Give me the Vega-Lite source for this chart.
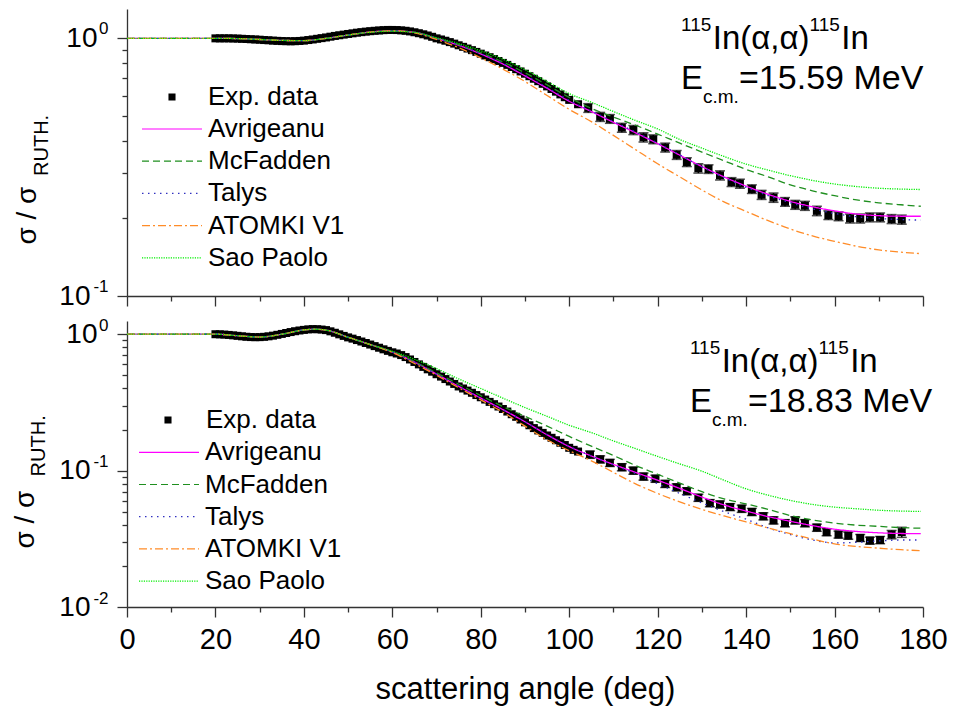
{
"$schema":"https://vega.github.io/schema/vega-lite/v6.json",
"autosize":{"type":"none"},
"padding":{"left":127,"top":9,"right":827,"bottom":700},
"background":"white",
"config":{"font":"Liberation Sans","view":{"stroke":null},
"axis":{"domainColor":"#333333","tickColor":"#333333","domainWidth":1.3,"tickWidth":1.3,"labelColor":"black","titleColor":"black","labelFont":"Liberation Sans","titleFont":"Liberation Sans","grid":false,"labelFlush":false,"labelOverlap":false,"titleFontWeight":"normal"},
"legend":{"labelFont":"Liberation Sans","labelColor":"black"},
"text":{"font":"Liberation Sans","color":"black"}},
"datasets":{
"topDense":[{"a":20,"v":1.0},{"a":21,"v":1.0},{"a":22,"v":1.0},{"a":23,"v":1.0},{"a":24,"v":0.999},{"a":25,"v":0.998},{"a":26,"v":0.996},{"a":27,"v":0.994},{"a":28,"v":0.992},{"a":29,"v":0.99},{"a":30,"v":0.988},{"a":31,"v":0.985},{"a":32,"v":0.983},{"a":33,"v":0.98},{"a":34,"v":0.978},{"a":35,"v":0.976},{"a":36,"v":0.975},{"a":37,"v":0.974},{"a":38,"v":0.975},{"a":39,"v":0.977},{"a":40,"v":0.98},{"a":41,"v":0.985},{"a":42,"v":0.99},{"a":43,"v":0.996},{"a":44,"v":1.002},{"a":45,"v":1.008},{"a":46,"v":1.015},{"a":47,"v":1.022},{"a":48,"v":1.028},{"a":49,"v":1.034},{"a":50,"v":1.04},{"a":51,"v":1.046},{"a":52,"v":1.052},{"a":53,"v":1.057},{"a":54,"v":1.062},{"a":55,"v":1.066},{"a":56,"v":1.07},{"a":57,"v":1.073},{"a":58,"v":1.076},{"a":59,"v":1.078},{"a":60,"v":1.078},{"a":61,"v":1.077},{"a":62,"v":1.074},{"a":63,"v":1.07},{"a":64,"v":1.064},{"a":65,"v":1.056},{"a":66,"v":1.047},{"a":67,"v":1.037},{"a":68,"v":1.026},{"a":69,"v":1.014},{"a":70,"v":1.0},{"a":71,"v":0.99},{"a":72,"v":0.979},{"a":73,"v":0.967},{"a":74,"v":0.954},{"a":75,"v":0.94},{"a":76,"v":0.927},{"a":77,"v":0.913},{"a":78,"v":0.9},{"a":79,"v":0.886},{"a":80,"v":0.872},{"a":81,"v":0.858},{"a":82,"v":0.845},{"a":83,"v":0.831},{"a":84,"v":0.817},{"a":85,"v":0.803},{"a":86,"v":0.789},{"a":87,"v":0.774},{"a":88,"v":0.759},{"a":89,"v":0.744},{"a":90,"v":0.729},{"a":91,"v":0.713},{"a":92,"v":0.697},{"a":93,"v":0.682},{"a":94,"v":0.666},{"a":95,"v":0.651},{"a":96,"v":0.636},{"a":97,"v":0.621},{"a":98,"v":0.606},{"a":99,"v":0.591},{"a":100,"v":0.577},{"a":102,"v":0.555}],
"topSparse":[{"a":104.3,"v":0.537,"e":0.021},{"a":107,"v":0.496,"e":0.02},{"a":109.2,"v":0.487,"e":0.019},{"a":111.9,"v":0.45,"e":0.018},{"a":114.5,"v":0.441,"e":0.018},{"a":116.8,"v":0.413,"e":0.017},{"a":119,"v":0.406,"e":0.016},{"a":121.7,"v":0.377,"e":0.015},{"a":124.3,"v":0.353,"e":0.014},{"a":126.6,"v":0.331,"e":0.013},{"a":129.2,"v":0.313,"e":0.013},{"a":131.5,"v":0.311,"e":0.012},{"a":134.1,"v":0.294,"e":0.012},{"a":136.7,"v":0.277,"e":0.011},{"a":138.6,"v":0.273,"e":0.011},{"a":141.3,"v":0.26,"e":0.01},{"a":143.5,"v":0.247,"e":0.01},{"a":146.2,"v":0.241,"e":0.01},{"a":148.8,"v":0.232,"e":0.009},{"a":151.1,"v":0.226,"e":0.009},{"a":153.3,"v":0.224,"e":0.009},{"a":156,"v":0.214,"e":0.009},{"a":158.6,"v":0.206,"e":0.008},{"a":160.9,"v":0.204,"e":0.008},{"a":163.5,"v":0.2,"e":0.008},{"a":165.8,"v":0.2,"e":0.008},{"a":168,"v":0.202,"e":0.008},{"a":170.3,"v":0.202,"e":0.008},{"a":172.9,"v":0.199,"e":0.008},{"a":175.2,"v":0.198,"e":0.008}],
"topTh":[
{"a":0,"v":1,"m":"Avrigeanu"},{"a":10,"v":1,"m":"Avrigeanu"},{"a":20,"v":1,"m":"Avrigeanu"},{"a":25,"v":0.998,"m":"Avrigeanu"},{"a":30,"v":0.99,"m":"Avrigeanu"},{"a":35,"v":0.982,"m":"Avrigeanu"},{"a":40,"v":0.98,"m":"Avrigeanu"},{"a":45,"v":1.0,"m":"Avrigeanu"},{"a":50,"v":1.03,"m":"Avrigeanu"},{"a":55,"v":1.058,"m":"Avrigeanu"},{"a":60,"v":1.07,"m":"Avrigeanu"},{"a":65,"v":1.055,"m":"Avrigeanu"},{"a":70,"v":1.0,"m":"Avrigeanu"},{"a":75,"v":0.94,"m":"Avrigeanu"},{"a":80,"v":0.87,"m":"Avrigeanu"},{"a":85,"v":0.795,"m":"Avrigeanu"},{"a":90,"v":0.715,"m":"Avrigeanu"},{"a":95,"v":0.64,"m":"Avrigeanu"},{"a":100,"v":0.57,"m":"Avrigeanu"},{"a":105,"v":0.52,"m":"Avrigeanu"},{"a":110,"v":0.472,"m":"Avrigeanu"},{"a":115,"v":0.43,"m":"Avrigeanu"},{"a":120,"v":0.39,"m":"Avrigeanu"},{"a":125,"v":0.352,"m":"Avrigeanu"},{"a":130,"v":0.318,"m":"Avrigeanu"},{"a":135,"v":0.29,"m":"Avrigeanu"},{"a":140,"v":0.267,"m":"Avrigeanu"},{"a":145,"v":0.248,"m":"Avrigeanu"},{"a":150,"v":0.233,"m":"Avrigeanu"},{"a":155,"v":0.222,"m":"Avrigeanu"},{"a":160,"v":0.214,"m":"Avrigeanu"},{"a":165,"v":0.208,"m":"Avrigeanu"},{"a":170,"v":0.205,"m":"Avrigeanu"},{"a":175,"v":0.204,"m":"Avrigeanu"},{"a":179.5,"v":0.204,"m":"Avrigeanu"},
{"a":0,"v":1,"m":"McFadden"},{"a":10,"v":1,"m":"McFadden"},{"a":20,"v":1,"m":"McFadden"},{"a":25,"v":0.998,"m":"McFadden"},{"a":30,"v":0.99,"m":"McFadden"},{"a":35,"v":0.982,"m":"McFadden"},{"a":40,"v":0.98,"m":"McFadden"},{"a":45,"v":1.0,"m":"McFadden"},{"a":50,"v":1.03,"m":"McFadden"},{"a":55,"v":1.058,"m":"McFadden"},{"a":60,"v":1.07,"m":"McFadden"},{"a":65,"v":1.055,"m":"McFadden"},{"a":70,"v":1.0,"m":"McFadden"},{"a":75,"v":0.945,"m":"McFadden"},{"a":80,"v":0.88,"m":"McFadden"},{"a":85,"v":0.81,"m":"McFadden"},{"a":90,"v":0.735,"m":"McFadden"},{"a":95,"v":0.66,"m":"McFadden"},{"a":100,"v":0.59,"m":"McFadden"},{"a":105,"v":0.535,"m":"McFadden"},{"a":110,"v":0.495,"m":"McFadden"},{"a":115,"v":0.46,"m":"McFadden"},{"a":120,"v":0.425,"m":"McFadden"},{"a":125,"v":0.392,"m":"McFadden"},{"a":130,"v":0.362,"m":"McFadden"},{"a":135,"v":0.335,"m":"McFadden"},{"a":140,"v":0.31,"m":"McFadden"},{"a":145,"v":0.29,"m":"McFadden"},{"a":150,"v":0.27,"m":"McFadden"},{"a":155,"v":0.256,"m":"McFadden"},{"a":160,"v":0.245,"m":"McFadden"},{"a":165,"v":0.236,"m":"McFadden"},{"a":170,"v":0.23,"m":"McFadden"},{"a":175,"v":0.226,"m":"McFadden"},{"a":179.5,"v":0.223,"m":"McFadden"},
{"a":0,"v":1,"m":"Talys"},{"a":10,"v":1,"m":"Talys"},{"a":20,"v":1,"m":"Talys"},{"a":25,"v":0.998,"m":"Talys"},{"a":30,"v":0.99,"m":"Talys"},{"a":35,"v":0.982,"m":"Talys"},{"a":40,"v":0.98,"m":"Talys"},{"a":45,"v":1.0,"m":"Talys"},{"a":50,"v":1.03,"m":"Talys"},{"a":55,"v":1.058,"m":"Talys"},{"a":60,"v":1.07,"m":"Talys"},{"a":65,"v":1.055,"m":"Talys"},{"a":70,"v":1.0,"m":"Talys"},{"a":75,"v":0.942,"m":"Talys"},{"a":80,"v":0.873,"m":"Talys"},{"a":85,"v":0.8,"m":"Talys"},{"a":90,"v":0.72,"m":"Talys"},{"a":95,"v":0.645,"m":"Talys"},{"a":100,"v":0.575,"m":"Talys"},{"a":105,"v":0.522,"m":"Talys"},{"a":110,"v":0.476,"m":"Talys"},{"a":115,"v":0.433,"m":"Talys"},{"a":120,"v":0.392,"m":"Talys"},{"a":125,"v":0.353,"m":"Talys"},{"a":130,"v":0.317,"m":"Talys"},{"a":135,"v":0.288,"m":"Talys"},{"a":140,"v":0.264,"m":"Talys"},{"a":145,"v":0.245,"m":"Talys"},{"a":150,"v":0.23,"m":"Talys"},{"a":155,"v":0.218,"m":"Talys"},{"a":160,"v":0.209,"m":"Talys"},{"a":165,"v":0.203,"m":"Talys"},{"a":170,"v":0.2,"m":"Talys"},{"a":175,"v":0.198,"m":"Talys"},{"a":179.5,"v":0.197,"m":"Talys"},
{"a":0,"v":1,"m":"ATOMKI V1"},{"a":10,"v":1,"m":"ATOMKI V1"},{"a":20,"v":1,"m":"ATOMKI V1"},{"a":25,"v":0.998,"m":"ATOMKI V1"},{"a":30,"v":0.99,"m":"ATOMKI V1"},{"a":35,"v":0.982,"m":"ATOMKI V1"},{"a":40,"v":0.98,"m":"ATOMKI V1"},{"a":45,"v":1.0,"m":"ATOMKI V1"},{"a":50,"v":1.03,"m":"ATOMKI V1"},{"a":55,"v":1.058,"m":"ATOMKI V1"},{"a":60,"v":1.07,"m":"ATOMKI V1"},{"a":65,"v":1.05,"m":"ATOMKI V1"},{"a":70,"v":0.99,"m":"ATOMKI V1"},{"a":75,"v":0.92,"m":"ATOMKI V1"},{"a":80,"v":0.84,"m":"ATOMKI V1"},{"a":85,"v":0.76,"m":"ATOMKI V1"},{"a":90,"v":0.68,"m":"ATOMKI V1"},{"a":95,"v":0.6,"m":"ATOMKI V1"},{"a":100,"v":0.53,"m":"ATOMKI V1"},{"a":105,"v":0.475,"m":"ATOMKI V1"},{"a":110,"v":0.42,"m":"ATOMKI V1"},{"a":115,"v":0.37,"m":"ATOMKI V1"},{"a":120,"v":0.326,"m":"ATOMKI V1"},{"a":125,"v":0.29,"m":"ATOMKI V1"},{"a":130,"v":0.258,"m":"ATOMKI V1"},{"a":135,"v":0.232,"m":"ATOMKI V1"},{"a":140,"v":0.213,"m":"ATOMKI V1"},{"a":145,"v":0.196,"m":"ATOMKI V1"},{"a":150,"v":0.182,"m":"ATOMKI V1"},{"a":155,"v":0.171,"m":"ATOMKI V1"},{"a":160,"v":0.163,"m":"ATOMKI V1"},{"a":165,"v":0.156,"m":"ATOMKI V1"},{"a":170,"v":0.151,"m":"ATOMKI V1"},{"a":175,"v":0.148,"m":"ATOMKI V1"},{"a":179.5,"v":0.146,"m":"ATOMKI V1"},
{"a":0,"v":1,"m":"Sao Paolo"},{"a":10,"v":1,"m":"Sao Paolo"},{"a":20,"v":1,"m":"Sao Paolo"},{"a":25,"v":0.998,"m":"Sao Paolo"},{"a":30,"v":0.99,"m":"Sao Paolo"},{"a":35,"v":0.982,"m":"Sao Paolo"},{"a":40,"v":0.98,"m":"Sao Paolo"},{"a":45,"v":1.0,"m":"Sao Paolo"},{"a":50,"v":1.03,"m":"Sao Paolo"},{"a":55,"v":1.055,"m":"Sao Paolo"},{"a":60,"v":1.065,"m":"Sao Paolo"},{"a":65,"v":1.055,"m":"Sao Paolo"},{"a":70,"v":1.005,"m":"Sao Paolo"},{"a":75,"v":0.955,"m":"Sao Paolo"},{"a":80,"v":0.895,"m":"Sao Paolo"},{"a":85,"v":0.83,"m":"Sao Paolo"},{"a":90,"v":0.755,"m":"Sao Paolo"},{"a":95,"v":0.68,"m":"Sao Paolo"},{"a":100,"v":0.61,"m":"Sao Paolo"},{"a":105,"v":0.565,"m":"Sao Paolo"},{"a":110,"v":0.52,"m":"Sao Paolo"},{"a":115,"v":0.48,"m":"Sao Paolo"},{"a":120,"v":0.445,"m":"Sao Paolo"},{"a":125,"v":0.405,"m":"Sao Paolo"},{"a":130,"v":0.375,"m":"Sao Paolo"},{"a":135,"v":0.348,"m":"Sao Paolo"},{"a":140,"v":0.325,"m":"Sao Paolo"},{"a":145,"v":0.308,"m":"Sao Paolo"},{"a":150,"v":0.293,"m":"Sao Paolo"},{"a":155,"v":0.281,"m":"Sao Paolo"},{"a":160,"v":0.272,"m":"Sao Paolo"},{"a":165,"v":0.266,"m":"Sao Paolo"},{"a":170,"v":0.262,"m":"Sao Paolo"},{"a":175,"v":0.26,"m":"Sao Paolo"},{"a":179.5,"v":0.259,"m":"Sao Paolo"}],
"botDense":[{"a":20,"v":1.0},{"a":21,"v":0.998},{"a":22,"v":0.994},{"a":23,"v":0.988},{"a":24,"v":0.981},{"a":25,"v":0.973},{"a":26,"v":0.965},{"a":27,"v":0.958},{"a":28,"v":0.953},{"a":29,"v":0.951},{"a":30,"v":0.952},{"a":31,"v":0.957},{"a":32,"v":0.965},{"a":33,"v":0.976},{"a":34,"v":0.99},{"a":35,"v":1.005},{"a":36,"v":1.021},{"a":37,"v":1.037},{"a":38,"v":1.052},{"a":39,"v":1.065},{"a":40,"v":1.076},{"a":41,"v":1.085},{"a":42,"v":1.09},{"a":43,"v":1.088},{"a":44,"v":1.082},{"a":45,"v":1.072},{"a":46,"v":1.05},{"a":47,"v":1.025},{"a":48,"v":0.998},{"a":49,"v":0.972},{"a":50,"v":0.948},{"a":51,"v":0.928},{"a":52,"v":0.906},{"a":53,"v":0.884},{"a":54,"v":0.862},{"a":55,"v":0.84},{"a":56,"v":0.818},{"a":57,"v":0.796},{"a":58,"v":0.775},{"a":59,"v":0.755},{"a":60,"v":0.737},{"a":61,"v":0.722},{"a":62,"v":0.703},{"a":63,"v":0.68},{"a":64,"v":0.653},{"a":65,"v":0.626},{"a":66,"v":0.601},{"a":67,"v":0.576},{"a":68,"v":0.553},{"a":69,"v":0.531},{"a":70,"v":0.509},{"a":71,"v":0.489},{"a":72,"v":0.469},{"a":73,"v":0.45},{"a":74,"v":0.432},{"a":75,"v":0.414},{"a":76,"v":0.4},{"a":77,"v":0.386},{"a":78,"v":0.372},{"a":79,"v":0.358},{"a":80,"v":0.345},{"a":81,"v":0.332},{"a":82,"v":0.319},{"a":83,"v":0.307},{"a":84,"v":0.295},{"a":85,"v":0.283},{"a":86,"v":0.271},{"a":87,"v":0.259},{"a":88,"v":0.248},{"a":89,"v":0.237},{"a":90,"v":0.226},{"a":91,"v":0.215},{"a":92,"v":0.205},{"a":93,"v":0.197},{"a":94,"v":0.189},{"a":95,"v":0.181},{"a":96,"v":0.174},{"a":97,"v":0.167},{"a":98,"v":0.16},{"a":99,"v":0.154},{"a":100,"v":0.147},{"a":101,"v":0.142},{"a":102,"v":0.138}],
"botSparse":[{"a":104.7,"v":0.131,"e":0.008},{"a":107,"v":0.121,"e":0.0073},{"a":109.2,"v":0.114,"e":0.0068},{"a":111.9,"v":0.106,"e":0.0064},{"a":114.5,"v":0.1,"e":0.006},{"a":116.8,"v":0.0905,"e":0.0054},{"a":119.5,"v":0.0873,"e":0.0052},{"a":121.7,"v":0.08,"e":0.0048},{"a":124.3,"v":0.0755,"e":0.0045},{"a":126.6,"v":0.0707,"e":0.0042},{"a":129.2,"v":0.0633,"e":0.0038},{"a":131.8,"v":0.0578,"e":0.0035},{"a":134.1,"v":0.0565,"e":0.0034},{"a":136.4,"v":0.0541,"e":0.0032},{"a":139,"v":0.0526,"e":0.0032},{"a":141.3,"v":0.0498,"e":0.003},{"a":143.9,"v":0.0463,"e":0.0028},{"a":146.2,"v":0.0432,"e":0.0026},{"a":148.8,"v":0.0412,"e":0.0025},{"a":151.1,"v":0.0432,"e":0.0026},{"a":153.3,"v":0.0412,"e":0.0025},{"a":156,"v":0.0382,"e":0.0023},{"a":158.2,"v":0.0354,"e":0.0021},{"a":160.9,"v":0.034,"e":0.002},{"a":163.1,"v":0.0334,"e":0.002},{"a":165.8,"v":0.0321,"e":0.0019},{"a":168,"v":0.0307,"e":0.0018},{"a":170.3,"v":0.031,"e":0.0019},{"a":172.9,"v":0.034,"e":0.0024},{"a":175.2,"v":0.0354,"e":0.003}],
"botTh":[
{"a":0,"v":1,"m":"Avrigeanu"},{"a":10,"v":1,"m":"Avrigeanu"},{"a":20,"v":1,"m":"Avrigeanu"},{"a":25,"v":0.975,"m":"Avrigeanu"},{"a":30,"v":0.953,"m":"Avrigeanu"},{"a":35,"v":1.0,"m":"Avrigeanu"},{"a":40,"v":1.075,"m":"Avrigeanu"},{"a":42.5,"v":1.088,"m":"Avrigeanu"},{"a":45,"v":1.072,"m":"Avrigeanu"},{"a":50,"v":0.95,"m":"Avrigeanu"},{"a":55,"v":0.84,"m":"Avrigeanu"},{"a":60,"v":0.74,"m":"Avrigeanu"},{"a":65,"v":0.625,"m":"Avrigeanu"},{"a":70,"v":0.51,"m":"Avrigeanu"},{"a":75,"v":0.415,"m":"Avrigeanu"},{"a":80,"v":0.34,"m":"Avrigeanu"},{"a":85,"v":0.28,"m":"Avrigeanu"},{"a":90,"v":0.228,"m":"Avrigeanu"},{"a":95,"v":0.183,"m":"Avrigeanu"},{"a":100,"v":0.15,"m":"Avrigeanu"},{"a":105,"v":0.128,"m":"Avrigeanu"},{"a":110,"v":0.111,"m":"Avrigeanu"},{"a":115,"v":0.097,"m":"Avrigeanu"},{"a":120,"v":0.085,"m":"Avrigeanu"},{"a":125,"v":0.074,"m":"Avrigeanu"},{"a":130,"v":0.064,"m":"Avrigeanu"},{"a":135,"v":0.056,"m":"Avrigeanu"},{"a":140,"v":0.0505,"m":"Avrigeanu"},{"a":145,"v":0.046,"m":"Avrigeanu"},{"a":150,"v":0.0425,"m":"Avrigeanu"},{"a":155,"v":0.0395,"m":"Avrigeanu"},{"a":160,"v":0.0372,"m":"Avrigeanu"},{"a":165,"v":0.0358,"m":"Avrigeanu"},{"a":170,"v":0.035,"m":"Avrigeanu"},{"a":175,"v":0.0346,"m":"Avrigeanu"},{"a":179.5,"v":0.0345,"m":"Avrigeanu"},
{"a":0,"v":1,"m":"McFadden"},{"a":10,"v":1,"m":"McFadden"},{"a":20,"v":1,"m":"McFadden"},{"a":25,"v":0.975,"m":"McFadden"},{"a":30,"v":0.953,"m":"McFadden"},{"a":35,"v":1.0,"m":"McFadden"},{"a":40,"v":1.075,"m":"McFadden"},{"a":42.5,"v":1.088,"m":"McFadden"},{"a":45,"v":1.072,"m":"McFadden"},{"a":50,"v":0.95,"m":"McFadden"},{"a":55,"v":0.84,"m":"McFadden"},{"a":60,"v":0.745,"m":"McFadden"},{"a":65,"v":0.63,"m":"McFadden"},{"a":70,"v":0.52,"m":"McFadden"},{"a":75,"v":0.43,"m":"McFadden"},{"a":80,"v":0.355,"m":"McFadden"},{"a":85,"v":0.295,"m":"McFadden"},{"a":90,"v":0.25,"m":"McFadden"},{"a":95,"v":0.212,"m":"McFadden"},{"a":100,"v":0.178,"m":"McFadden"},{"a":105,"v":0.151,"m":"McFadden"},{"a":110,"v":0.129,"m":"McFadden"},{"a":115,"v":0.109,"m":"McFadden"},{"a":120,"v":0.094,"m":"McFadden"},{"a":125,"v":0.081,"m":"McFadden"},{"a":130,"v":0.07,"m":"McFadden"},{"a":135,"v":0.062,"m":"McFadden"},{"a":140,"v":0.057,"m":"McFadden"},{"a":145,"v":0.052,"m":"McFadden"},{"a":150,"v":0.0468,"m":"McFadden"},{"a":155,"v":0.0435,"m":"McFadden"},{"a":160,"v":0.0412,"m":"McFadden"},{"a":165,"v":0.0398,"m":"McFadden"},{"a":170,"v":0.039,"m":"McFadden"},{"a":175,"v":0.0382,"m":"McFadden"},{"a":179.5,"v":0.0378,"m":"McFadden"},
{"a":0,"v":1,"m":"Talys"},{"a":10,"v":1,"m":"Talys"},{"a":20,"v":1,"m":"Talys"},{"a":25,"v":0.975,"m":"Talys"},{"a":30,"v":0.953,"m":"Talys"},{"a":35,"v":1.0,"m":"Talys"},{"a":40,"v":1.075,"m":"Talys"},{"a":42.5,"v":1.088,"m":"Talys"},{"a":45,"v":1.072,"m":"Talys"},{"a":50,"v":0.95,"m":"Talys"},{"a":55,"v":0.84,"m":"Talys"},{"a":60,"v":0.74,"m":"Talys"},{"a":65,"v":0.625,"m":"Talys"},{"a":70,"v":0.51,"m":"Talys"},{"a":75,"v":0.415,"m":"Talys"},{"a":80,"v":0.34,"m":"Talys"},{"a":85,"v":0.28,"m":"Talys"},{"a":90,"v":0.228,"m":"Talys"},{"a":95,"v":0.184,"m":"Talys"},{"a":100,"v":0.151,"m":"Talys"},{"a":105,"v":0.128,"m":"Talys"},{"a":110,"v":0.11,"m":"Talys"},{"a":115,"v":0.095,"m":"Talys"},{"a":120,"v":0.08,"m":"Talys"},{"a":125,"v":0.068,"m":"Talys"},{"a":130,"v":0.058,"m":"Talys"},{"a":135,"v":0.05,"m":"Talys"},{"a":140,"v":0.044,"m":"Talys"},{"a":145,"v":0.038,"m":"Talys"},{"a":150,"v":0.034,"m":"Talys"},{"a":155,"v":0.031,"m":"Talys"},{"a":160,"v":0.0295,"m":"Talys"},{"a":165,"v":0.0298,"m":"Talys"},{"a":170,"v":0.0305,"m":"Talys"},{"a":175,"v":0.031,"m":"Talys"},{"a":179.5,"v":0.031,"m":"Talys"},
{"a":0,"v":1,"m":"ATOMKI V1"},{"a":10,"v":1,"m":"ATOMKI V1"},{"a":20,"v":1,"m":"ATOMKI V1"},{"a":25,"v":0.975,"m":"ATOMKI V1"},{"a":30,"v":0.953,"m":"ATOMKI V1"},{"a":35,"v":1.0,"m":"ATOMKI V1"},{"a":40,"v":1.075,"m":"ATOMKI V1"},{"a":42.5,"v":1.088,"m":"ATOMKI V1"},{"a":45,"v":1.072,"m":"ATOMKI V1"},{"a":50,"v":0.95,"m":"ATOMKI V1"},{"a":55,"v":0.84,"m":"ATOMKI V1"},{"a":60,"v":0.735,"m":"ATOMKI V1"},{"a":65,"v":0.61,"m":"ATOMKI V1"},{"a":70,"v":0.5,"m":"ATOMKI V1"},{"a":75,"v":0.405,"m":"ATOMKI V1"},{"a":80,"v":0.33,"m":"ATOMKI V1"},{"a":85,"v":0.268,"m":"ATOMKI V1"},{"a":90,"v":0.212,"m":"ATOMKI V1"},{"a":95,"v":0.168,"m":"ATOMKI V1"},{"a":100,"v":0.14,"m":"ATOMKI V1"},{"a":105,"v":0.118,"m":"ATOMKI V1"},{"a":110,"v":0.097,"m":"ATOMKI V1"},{"a":115,"v":0.08,"m":"ATOMKI V1"},{"a":120,"v":0.068,"m":"ATOMKI V1"},{"a":125,"v":0.059,"m":"ATOMKI V1"},{"a":130,"v":0.052,"m":"ATOMKI V1"},{"a":135,"v":0.0465,"m":"ATOMKI V1"},{"a":140,"v":0.042,"m":"ATOMKI V1"},{"a":145,"v":0.038,"m":"ATOMKI V1"},{"a":150,"v":0.0345,"m":"ATOMKI V1"},{"a":155,"v":0.0315,"m":"ATOMKI V1"},{"a":160,"v":0.029,"m":"ATOMKI V1"},{"a":165,"v":0.0278,"m":"ATOMKI V1"},{"a":170,"v":0.027,"m":"ATOMKI V1"},{"a":175,"v":0.0263,"m":"ATOMKI V1"},{"a":179.5,"v":0.0259,"m":"ATOMKI V1"},
{"a":0,"v":1,"m":"Sao Paolo"},{"a":10,"v":1,"m":"Sao Paolo"},{"a":20,"v":1,"m":"Sao Paolo"},{"a":25,"v":0.975,"m":"Sao Paolo"},{"a":30,"v":0.953,"m":"Sao Paolo"},{"a":35,"v":1.0,"m":"Sao Paolo"},{"a":40,"v":1.075,"m":"Sao Paolo"},{"a":42.5,"v":1.088,"m":"Sao Paolo"},{"a":45,"v":1.072,"m":"Sao Paolo"},{"a":50,"v":0.95,"m":"Sao Paolo"},{"a":55,"v":0.84,"m":"Sao Paolo"},{"a":60,"v":0.75,"m":"Sao Paolo"},{"a":65,"v":0.655,"m":"Sao Paolo"},{"a":70,"v":0.56,"m":"Sao Paolo"},{"a":75,"v":0.47,"m":"Sao Paolo"},{"a":80,"v":0.4,"m":"Sao Paolo"},{"a":85,"v":0.34,"m":"Sao Paolo"},{"a":90,"v":0.29,"m":"Sao Paolo"},{"a":95,"v":0.25,"m":"Sao Paolo"},{"a":100,"v":0.215,"m":"Sao Paolo"},{"a":105,"v":0.19,"m":"Sao Paolo"},{"a":110,"v":0.165,"m":"Sao Paolo"},{"a":115,"v":0.145,"m":"Sao Paolo"},{"a":120,"v":0.127,"m":"Sao Paolo"},{"a":125,"v":0.112,"m":"Sao Paolo"},{"a":130,"v":0.099,"m":"Sao Paolo"},{"a":135,"v":0.085,"m":"Sao Paolo"},{"a":140,"v":0.0735,"m":"Sao Paolo"},{"a":145,"v":0.066,"m":"Sao Paolo"},{"a":150,"v":0.0605,"m":"Sao Paolo"},{"a":155,"v":0.0565,"m":"Sao Paolo"},{"a":160,"v":0.054,"m":"Sao Paolo"},{"a":165,"v":0.0525,"m":"Sao Paolo"},{"a":170,"v":0.0512,"m":"Sao Paolo"},{"a":175,"v":0.0505,"m":"Sao Paolo"},{"a":179.5,"v":0.0502,"m":"Sao Paolo"}]
},
"spacing":25,
"bounds":"flush",
"resolve":{"legend":{"color":"independent","strokeDash":"independent","shape":"independent"}},
"vconcat":[
{"width":796,"height":287,
"resolve":{"axis":{"x":"independent","y":"independent"}},
"layer":[
{"data":{"name":"topDense"},"mark":{"type":"point","shape":"square","filled":true,"color":"black","size":64,"opacity":1},
"encoding":{"x":{"field":"a","type":"quantitative","scale":{"domain":[0,180],"nice":false,"zero":false},"axis":{"orient":"bottom","values":[10,30,50,70,90,110,130,150,170],"tickSize":5,"labels":false,"domain":false,"title":null}},
"y":{"field":"v","type":"quantitative","scale":{"type":"log","domain":[0.1,1.3],"nice":false},"axis":{"orient":"left","values":[0.1,1],"ticks":false,"tickSize":0,"domain":false,"labelExpr":"datum.value > 0.5 ? '0' : datum.value > 0.05 ? '-1' : '-2'","labelFontSize":17,"labelPadding":19,"labelOffset":-10,"labelAlign":"right","title":null}},
"shape":{"datum":"Exp. data","type":"nominal","scale":{"range":["square"]},"legend":{"orient":"none","legendX":32,"legendY":75,"title":null,"padding":0,"clipHeight":26,"symbolSize":50,"symbolFillColor":"black","symbolStrokeWidth":0,"labelFontSize":26,"labelOffset":23,"labelLimit":400}}}},
{"data":{"name":"topSparse"},"mark":{"type":"errorbar","color":"black","thickness":1.5,"ticks":{"size":10,"color":"black","thickness":1.5}},
"encoding":{"x":{"field":"a","type":"quantitative","scale":{"domain":[0,180],"nice":false,"zero":false},"axis":null},
"y":{"field":"v","type":"quantitative","scale":{"type":"log","domain":[0.1,1.3],"nice":false},"axis":null},"yError":{"field":"e"}}},
{"data":{"name":"topSparse"},"mark":{"type":"point","shape":"square","filled":true,"color":"black","size":64,"opacity":1},
"encoding":{"x":{"field":"a","type":"quantitative","scale":{"domain":[0,180],"nice":false,"zero":false},"axis":null},
"y":{"field":"v","type":"quantitative","scale":{"type":"log","domain":[0.1,1.3],"nice":false},"axis":{"orient":"left","values":[0.2,0.3,0.4,0.5,0.6,0.7,0.8,0.9],"tickSize":5,"labels":false,"domain":false,"title":null}}}},
{"data":{"name":"topTh"},"mark":{"type":"line","strokeWidth":1.3,"interpolate":"monotone"},
"encoding":{"x":{"field":"a","type":"quantitative","scale":{"domain":[0,180],"nice":false,"zero":false},"axis":{"orient":"bottom","values":[0,20,40,60,80,100,120,140,160,180],"tickSize":10,"labels":false,"title":null}},
"y":{"field":"v","type":"quantitative","scale":{"type":"log","domain":[0.1,1.3],"nice":false},"axis":{"orient":"left","values":[0.1,1],"tickSize":10,"labelExpr":"'10'","labelFontSize":28,"labelPadding":{"condition":{"test":"datum.value < 0.5","value":27},"value":20},"title":"σ / σ","titleFontSize":28,"titleAngle":270,"titleAlign":"left","titleBaseline":"alphabetic","titleX":-92,"titleY":235}},
"color":{"field":"m","type":"nominal","scale":{"domain":["Avrigeanu","McFadden","Talys","ATOMKI V1","Sao Paolo"],"range":["#FF00FF","#1F8F1F","#3030C0","#FF8C28","#00EE00"]},"legend":{"orient":"none","legendX":14,"legendY":107,"title":null,"padding":0,"clipHeight":26,"rowPadding":6.2,"symbolType":"stroke","symbolSize":3600,"symbolStrokeWidth":1.2,"labelFontSize":26,"labelOffset":5,"labelLimit":400}},
"strokeDash":{"field":"m","type":"nominal","scale":{"domain":["Avrigeanu","McFadden","Talys","ATOMKI V1","Sao Paolo"],"range":[[1,0],[7,4],[1.5,4.5],[8,3,2,3],[1.2,1.2]]},"legend":{"orient":"none","legendX":14,"legendY":107,"title":null,"padding":0,"clipHeight":26,"rowPadding":6.2,"symbolType":"stroke","symbolSize":3600,"symbolStrokeWidth":1.2,"labelFontSize":26,"labelOffset":5,"labelLimit":400}}}},
{"data":{"values":[{"t":"115"}]},"mark":{"type":"text","align":"left","baseline":"alphabetic","fontSize":19,"dx":0,"dy":-18,"color":"black"},"encoding":{"x":{"datum":125.28,"type":"quantitative","scale":{"domain":[0,180],"nice":false,"zero":false},"axis":null},"y":{"datum":0.9105,"type":"quantitative","scale":{"type":"log","domain":[0.1,1.3],"nice":false},"axis":null},"text":{"field":"t"}}},
{"data":{"values":[{"t":"In(α,α)"}]},"mark":{"type":"text","align":"left","baseline":"alphabetic","fontSize":33,"dx":31.7,"dy":0,"color":"black"},"encoding":{"x":{"datum":125.28,"type":"quantitative","scale":{"domain":[0,180],"nice":false,"zero":false},"axis":null},"y":{"datum":0.9105,"type":"quantitative","scale":{"type":"log","domain":[0.1,1.3],"nice":false},"axis":null},"text":{"field":"t"}}},
{"data":{"values":[{"t":"115"}]},"mark":{"type":"text","align":"left","baseline":"alphabetic","fontSize":19,"dx":128.5,"dy":-18,"color":"black"},"encoding":{"x":{"datum":125.28,"type":"quantitative","scale":{"domain":[0,180],"nice":false,"zero":false},"axis":null},"y":{"datum":0.9105,"type":"quantitative","scale":{"type":"log","domain":[0.1,1.3],"nice":false},"axis":null},"text":{"field":"t"}}},
{"data":{"values":[{"t":"In"}]},"mark":{"type":"text","align":"left","baseline":"alphabetic","fontSize":33,"dx":160.2,"dy":0,"color":"black"},"encoding":{"x":{"datum":125.28,"type":"quantitative","scale":{"domain":[0,180],"nice":false,"zero":false},"axis":null},"y":{"datum":0.9105,"type":"quantitative","scale":{"type":"log","domain":[0.1,1.3],"nice":false},"axis":null},"text":{"field":"t"}}},
{"data":{"values":[{"t":"E"}]},"mark":{"type":"text","align":"left","baseline":"alphabetic","fontSize":33,"dx":0,"dy":40,"color":"black"},"encoding":{"x":{"datum":125.28,"type":"quantitative","scale":{"domain":[0,180],"nice":false,"zero":false},"axis":null},"y":{"datum":0.9105,"type":"quantitative","scale":{"type":"log","domain":[0.1,1.3],"nice":false},"axis":null},"text":{"field":"t"}}},
{"data":{"values":[{"t":"c.m."}]},"mark":{"type":"text","align":"left","baseline":"alphabetic","fontSize":19,"dx":22,"dy":54,"color":"black"},"encoding":{"x":{"datum":125.28,"type":"quantitative","scale":{"domain":[0,180],"nice":false,"zero":false},"axis":null},"y":{"datum":0.9105,"type":"quantitative","scale":{"type":"log","domain":[0.1,1.3],"nice":false},"axis":null},"text":{"field":"t"}}},
{"data":{"values":[{"t":"=15.59 MeV"}]},"mark":{"type":"text","align":"left","baseline":"alphabetic","fontSize":34,"dx":58,"dy":40,"color":"black"},"encoding":{"x":{"datum":125.28,"type":"quantitative","scale":{"domain":[0,180],"nice":false,"zero":false},"axis":null},"y":{"datum":0.9105,"type":"quantitative","scale":{"type":"log","domain":[0.1,1.3],"nice":false},"axis":null},"text":{"field":"t"}}},
{"data":{"values":[{"t":"RUTH."}]},"mark":{"type":"text","align":"left","baseline":"alphabetic","fontSize":20,"angle":270,"color":"black"},"encoding":{"x":{"datum":-17.87,"type":"quantitative","scale":{"domain":[0,180],"nice":false,"zero":false},"axis":null},"y":{"datum":0.2924,"type":"quantitative","scale":{"type":"log","domain":[0.1,1.3],"nice":false},"axis":null},"text":{"field":"t"}}}
]},
{"width":796,"height":286,
"resolve":{"axis":{"x":"independent","y":"independent"}},
"layer":[
{"data":{"name":"botDense"},"mark":{"type":"point","shape":"square","filled":true,"color":"black","size":64,"opacity":1},
"encoding":{"x":{"field":"a","type":"quantitative","scale":{"domain":[0,180],"nice":false,"zero":false},"axis":{"orient":"bottom","values":[10,30,50,70,90,110,130,150,170],"tickSize":5,"labels":false,"domain":false,"title":null}},
"y":{"field":"v","type":"quantitative","scale":{"type":"log","domain":[0.01,1.25],"nice":false},"axis":{"orient":"left","values":[0.01,0.1,1],"ticks":false,"tickSize":0,"domain":false,"labelExpr":"datum.value > 0.5 ? '0' : datum.value > 0.05 ? '-1' : '-2'","labelFontSize":17,"labelPadding":19,"labelOffset":-9,"labelAlign":"right","title":null}},
"shape":{"datum":"Exp. data","type":"nominal","scale":{"range":["square"]},"legend":{"orient":"none","legendX":28,"legendY":86,"title":null,"padding":0,"clipHeight":26,"symbolSize":50,"symbolFillColor":"black","symbolStrokeWidth":0,"labelFontSize":26,"labelOffset":25,"labelLimit":400}}}},
{"data":{"name":"botSparse"},"mark":{"type":"errorbar","color":"black","thickness":1.5,"ticks":{"size":10,"color":"black","thickness":1.5}},
"encoding":{"x":{"field":"a","type":"quantitative","scale":{"domain":[0,180],"nice":false,"zero":false},"axis":null},
"y":{"field":"v","type":"quantitative","scale":{"type":"log","domain":[0.01,1.25],"nice":false},"axis":null},"yError":{"field":"e"}}},
{"data":{"name":"botSparse"},"mark":{"type":"point","shape":"square","filled":true,"color":"black","size":64,"opacity":1},
"encoding":{"x":{"field":"a","type":"quantitative","scale":{"domain":[0,180],"nice":false,"zero":false},"axis":null},
"y":{"field":"v","type":"quantitative","scale":{"type":"log","domain":[0.01,1.25],"nice":false},"axis":{"orient":"left","values":[0.02,0.03,0.04,0.05,0.06,0.07,0.08,0.09,0.2,0.3,0.4,0.5,0.6,0.7,0.8,0.9],"tickSize":5,"labels":false,"domain":false,"title":null}}}},
{"data":{"name":"botTh"},"mark":{"type":"line","strokeWidth":1.3,"interpolate":"monotone"},
"encoding":{"x":{"field":"a","type":"quantitative","scale":{"domain":[0,180],"nice":false,"zero":false},"axis":{"orient":"bottom","values":[0,20,40,60,80,100,120,140,160,180],"tickSize":10,"labelFontSize":29,"labelPadding":8,"title":"scattering angle (deg)","titleFontSize":31,"titleX":398,"titleY":91,"titleBaseline":"alphabetic"}},
"y":{"field":"v","type":"quantitative","scale":{"type":"log","domain":[0.01,1.25],"nice":false},"axis":{"orient":"left","values":[0.01,0.1,1],"tickSize":10,"labelExpr":"'10'","labelFontSize":28,"labelPadding":{"condition":{"test":"datum.value < 0.5","value":27},"value":20},"title":"σ / σ","titleFontSize":28,"titleAngle":270,"titleAlign":"left","titleBaseline":"alphabetic","titleX":-93.5,"titleY":227}},
"color":{"field":"m","type":"nominal","scale":{"domain":["Avrigeanu","McFadden","Talys","ATOMKI V1","Sao Paolo"],"range":["#FF00FF","#1F8F1F","#3030C0","#FF8C28","#00EE00"]},"legend":{"orient":"none","legendX":11,"legendY":118.3,"title":null,"padding":0,"clipHeight":26,"rowPadding":6.2,"symbolType":"stroke","symbolSize":3600,"symbolStrokeWidth":1.2,"labelFontSize":26,"labelOffset":5,"labelLimit":400}},
"strokeDash":{"field":"m","type":"nominal","scale":{"domain":["Avrigeanu","McFadden","Talys","ATOMKI V1","Sao Paolo"],"range":[[1,0],[7,4],[1.5,4.5],[8,3,2,3],[1.2,1.2]]},"legend":{"orient":"none","legendX":11,"legendY":118.3,"title":null,"padding":0,"clipHeight":26,"rowPadding":6.2,"symbolType":"stroke","symbolSize":3600,"symbolStrokeWidth":1.2,"labelFontSize":26,"labelOffset":5,"labelLimit":400}}}},
{"data":{"values":[{"t":"115"}]},"mark":{"type":"text","align":"left","baseline":"alphabetic","fontSize":19,"dx":0,"dy":-18,"color":"black"},"encoding":{"x":{"datum":127.3,"type":"quantitative","scale":{"domain":[0,180],"nice":false,"zero":false},"axis":null},"y":{"datum":0.524,"type":"quantitative","scale":{"type":"log","domain":[0.01,1.25],"nice":false},"axis":null},"text":{"field":"t"}}},
{"data":{"values":[{"t":"In(α,α)"}]},"mark":{"type":"text","align":"left","baseline":"alphabetic","fontSize":33,"dx":31.7,"dy":0,"color":"black"},"encoding":{"x":{"datum":127.3,"type":"quantitative","scale":{"domain":[0,180],"nice":false,"zero":false},"axis":null},"y":{"datum":0.524,"type":"quantitative","scale":{"type":"log","domain":[0.01,1.25],"nice":false},"axis":null},"text":{"field":"t"}}},
{"data":{"values":[{"t":"115"}]},"mark":{"type":"text","align":"left","baseline":"alphabetic","fontSize":19,"dx":128.5,"dy":-18,"color":"black"},"encoding":{"x":{"datum":127.3,"type":"quantitative","scale":{"domain":[0,180],"nice":false,"zero":false},"axis":null},"y":{"datum":0.524,"type":"quantitative","scale":{"type":"log","domain":[0.01,1.25],"nice":false},"axis":null},"text":{"field":"t"}}},
{"data":{"values":[{"t":"In"}]},"mark":{"type":"text","align":"left","baseline":"alphabetic","fontSize":33,"dx":160.2,"dy":0,"color":"black"},"encoding":{"x":{"datum":127.3,"type":"quantitative","scale":{"domain":[0,180],"nice":false,"zero":false},"axis":null},"y":{"datum":0.524,"type":"quantitative","scale":{"type":"log","domain":[0.01,1.25],"nice":false},"axis":null},"text":{"field":"t"}}},
{"data":{"values":[{"t":"E"}]},"mark":{"type":"text","align":"left","baseline":"alphabetic","fontSize":33,"dx":0,"dy":40,"color":"black"},"encoding":{"x":{"datum":127.3,"type":"quantitative","scale":{"domain":[0,180],"nice":false,"zero":false},"axis":null},"y":{"datum":0.524,"type":"quantitative","scale":{"type":"log","domain":[0.01,1.25],"nice":false},"axis":null},"text":{"field":"t"}}},
{"data":{"values":[{"t":"c.m."}]},"mark":{"type":"text","align":"left","baseline":"alphabetic","fontSize":19,"dx":22,"dy":54,"color":"black"},"encoding":{"x":{"datum":127.3,"type":"quantitative","scale":{"domain":[0,180],"nice":false,"zero":false},"axis":null},"y":{"datum":0.524,"type":"quantitative","scale":{"type":"log","domain":[0.01,1.25],"nice":false},"axis":null},"text":{"field":"t"}}},
{"data":{"values":[{"t":"=18.83 MeV"}]},"mark":{"type":"text","align":"left","baseline":"alphabetic","fontSize":34,"dx":58,"dy":40,"color":"black"},"encoding":{"x":{"datum":127.3,"type":"quantitative","scale":{"domain":[0,180],"nice":false,"zero":false},"axis":null},"y":{"datum":0.524,"type":"quantitative","scale":{"type":"log","domain":[0.01,1.25],"nice":false},"axis":null},"text":{"field":"t"}}},
{"data":{"values":[{"t":"RUTH."}]},"mark":{"type":"text","align":"left","baseline":"alphabetic","fontSize":20,"angle":270,"color":"black"},"encoding":{"x":{"datum":-18.54,"type":"quantitative","scale":{"domain":[0,180],"nice":false,"zero":false},"axis":null},"y":{"datum":0.0907,"type":"quantitative","scale":{"type":"log","domain":[0.01,1.25],"nice":false},"axis":null},"text":{"field":"t"}}}
]}
]
}
